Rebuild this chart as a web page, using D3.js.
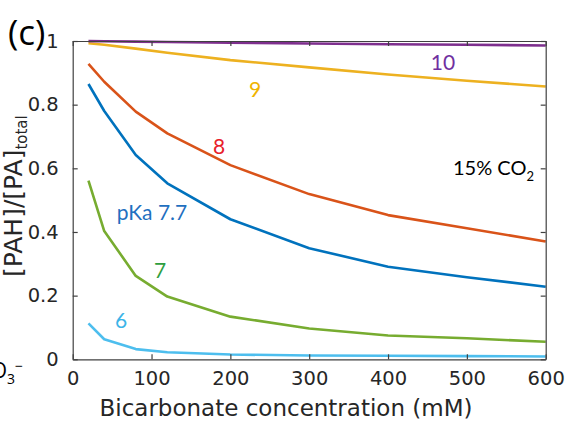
<!DOCTYPE html>
<html>
<head>
<meta charset="utf-8">
<script src="https://cdn.jsdelivr.net/npm/d3@7"></script>
<style>
  body { margin: 0; background: #fff; }
  svg { display: block; }
</style>
</head>
<body>
<div id="chart"></div>
<script>
// bicarbonate concentration (mM)
const bicarb = [20, 40, 80, 120, 200, 300, 400, 500, 600];

// fraction protonated, one array per pKa
const pka6 = [0.113, 0.063, 0.032, 0.022, 0.015, 0.012, 0.011, 0.010, 0.009];
const pka7 = [0.561, 0.403, 0.262, 0.197, 0.134, 0.097, 0.075, 0.066, 0.055];
const pka77 = [0.865, 0.78, 0.642, 0.553, 0.44, 0.349, 0.291, 0.258, 0.228];
const pka8 = [0.928, 0.872, 0.778, 0.71, 0.61, 0.519, 0.453, 0.412, 0.37];
const pka9 = [0.993, 0.988, 0.976, 0.963, 0.94, 0.917, 0.895, 0.875, 0.857];
const pka10 = [0.9995, 0.999, 0.998, 0.997, 0.995, 0.992, 0.99, 0.988, 0.986];

const xTicks = [0, 100, 200, 300, 400, 500, 600];
const yTicks = [0, 0.2, 0.4, 0.6, 0.8, 1];

const series = [
    { name: '6', values: pka6, color: '#4dbeee' },
    { name: '7', values: pka7, color: '#77ac30' },
    { name: '7.7', values: pka77, color: '#0072bd' },
    { name: '8', values: pka8, color: '#d95319' },
    { name: '9', values: pka9, color: '#edb120' },
    { name: '10', values: pka10, color: '#7e2f8e' }
];

const width = 566, height = 425;
const svg = d3.select('#chart').append('svg')
    .attr('width', width)
    .attr('height', height);

const x = d3.scaleLinear().domain([0, 600]).range([72.7, 545.7]);
const y = d3.scaleLinear().domain([0, 1]).range([359.3, 41]);

const axisColor = '#404040';
const tickFont = '"DejaVu Sans", sans-serif';

// curves
const line = d3.line()
    .x((d, i) => x(bicarb[i]))
    .y(d => y(d));

svg.append('g').selectAll('path')
    .data(series)
    .join('path')
    .attr('d', d => line(d.values))
    .attr('fill', 'none')
    .attr('stroke', d => d.color)
    .attr('stroke-width', 2.6)
    .attr('stroke-linejoin', 'round');

// box axes, ticks pointing in
const axBottom = svg.append('g')
    .attr('transform', `translate(0,${y(0)})`)
    .call(d3.axisBottom(x).tickValues(xTicks).tickSizeInner(-5).tickSizeOuter(0).tickPadding(12));
const axTop = svg.append('g')
    .attr('transform', `translate(0,${y(1)})`)
    .call(d3.axisTop(x).tickValues(xTicks).tickSizeInner(-5).tickSizeOuter(0).tickFormat(''));
const axLeft = svg.append('g')
    .attr('transform', `translate(${x(0)},0)`)
    .call(d3.axisLeft(y).tickValues(yTicks).tickSizeInner(-5).tickSizeOuter(0).tickPadding(14)
        .tickFormat(d => d === 0 || d === 1 ? d3.format('d')(d) : d3.format('.1f')(d)));
const axRight = svg.append('g')
    .attr('transform', `translate(${x(600)},0)`)
    .call(d3.axisRight(y).tickValues(yTicks).tickSizeInner(-5).tickSizeOuter(0).tickFormat(''));

[axBottom, axTop, axLeft, axRight].forEach(g => {
    g.selectAll('.domain').attr('stroke', axisColor).attr('stroke-width', 1.2);
    g.selectAll('line').attr('stroke', axisColor).attr('stroke-width', 1.2);
    g.selectAll('text')
        .style('font-family', tickFont)
        .style('font-size', '19.5px')
        .attr('fill', '#262626');
});

// axis titles
svg.append('text')
    .attr('x', 286)
    .attr('y', 416)
    .attr('text-anchor', 'middle')
    .style('font-family', tickFont)
    .style('font-size', '23px')
    .attr('fill', '#262626')
    .text('Bicarbonate concentration (mM)');

const ylab = svg.append('text')
    .attr('transform', 'translate(22,277) rotate(-90)')
    .style('font-family', tickFont)
    .style('font-size', '25px')
    .attr('fill', '#262626');
ylab.append('tspan').text('[PAH]/[PA]');
ylab.append('tspan').attr('dy', 5).style('font-size', '15px').text('total');

// panel letter
svg.append('text')
    .attr('x', 8)
    .attr('y', 45)
    .style('font-family', '"Open Sans", sans-serif')
    .style('font-size', '35px')
    .attr('fill', '#000')
    .text('(c)');

// leftover from neighbouring panel
const hco = svg.append('text')
    .attr('x', 23)
    .attr('y', 378)
    .attr('text-anchor', 'end')
    .style('font-family', '"Open Sans", sans-serif')
    .style('font-size', '21px')
    .attr('fill', '#000');
hco.append('tspan').text('HCO');
hco.append('tspan').attr('dy', 6).style('font-size', '14px').text('3');
hco.append('tspan').attr('dy', -13).style('font-size', '14px').text('\u2212');

// curve labels
const labelFont = 'Lato, "Open Sans", sans-serif';
const labels = [
    { text: '10', x: 443, y: 70, color: '#7030a0' },
    { text: '9', x: 255, y: 97, color: '#f0b400' },
    { text: '8', x: 219, y: 154, color: '#e8202a' },
    { text: 'pKa 7.7', x: 152, y: 220, color: '#1f70c0' },
    { text: '7', x: 160, y: 278, color: '#2e9e3e' },
    { text: '6', x: 121, y: 328, color: '#3cb4e8' }
];
svg.append('g').selectAll('text')
    .data(labels)
    .join('text')
    .attr('x', d => d.x)
    .attr('y', d => d.y)
    .attr('text-anchor', 'middle')
    .style('font-family', labelFont)
    .style('font-size', '21px')
    .attr('fill', d => d.color)
    .text(d => d.text);

const co2 = svg.append('text')
    .attr('x', 453)
    .attr('y', 175)
    .style('font-family', labelFont)
    .style('font-size', '20px')
    .attr('fill', '#000');
co2.append('tspan').text('15% CO');
co2.append('tspan').attr('dy', 6).style('font-size', '13px').text('2');
</script>
</body>
</html>
